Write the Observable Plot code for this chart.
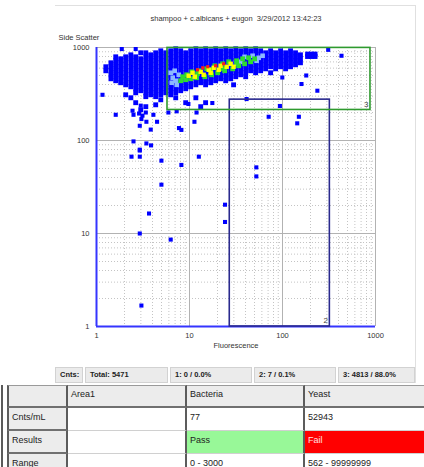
<!DOCTYPE html>
<html><head><meta charset="utf-8">
<script src="https://cdn.jsdelivr.net/npm/d3@7"></script>
<script src="https://cdn.jsdelivr.net/npm/@observablehq/plot@0.6"></script>
<style>
body{margin:0;background:#fff;font-family:"Liberation Sans",Arial,sans-serif;}
#wrap{position:relative;width:424px;height:467px;overflow:hidden;background:#fff;}
#chart{position:absolute;left:0;top:0;}
.fr{position:absolute;background:#e0e0e0;}
.cnt{position:absolute;top:367px;height:16px;background:#ebebeb;border:1px solid #d2d2d2;box-sizing:border-box;font-size:7.5px;font-weight:bold;line-height:14px;padding-left:4px;color:#222;white-space:nowrap;}
.cell{position:absolute;box-sizing:border-box;font-size:9px;padding-left:3px;color:#222;white-space:nowrap;overflow:hidden;}
</style></head>
<body>
<div id="wrap">
  <div class="fr" style="left:55px;top:5px;width:361px;height:1px;"></div>
  <div class="fr" style="left:415px;top:5px;width:1px;height:378px;"></div>
  <div id="chart"></div>
</div>
<script>
// ---------- data ----------
const chartTitle = "shampoo + c.albicans + eugon  3/29/2012 13:42:23";
const xLabel = "Fluorescence";
const yLabel = "Side Scatter";
const majorTicks = [1, 10, 100, 1000];
const minorTicks = [2,3,4,5,6,7,8,9,20,30,40,50,60,70,80,90,200,300,400,500,600,700,800,900];

// main cluster: [fluorescence, [side scatter values]]
const clusterColumns = [
  [1.26, [621, 562]],
  [1.43, [685, 621, 562, 509, 461]],
  [1.61, [794, 720, 652, 590, 535, 485, 439]],
  [1.82, [756, 685, 621, 562, 509, 461, 418]],
  [2.06, [794, 720, 652, 590, 535, 485, 439, 397, 310]],
  [2.34, [834, 756, 685, 621, 562, 509, 461, 418, 378, 288]],
  [2.64, [794, 720, 652, 590, 535, 485, 439, 397, 360, 326, 255]],
  [2.99, [877, 756, 685, 621, 562, 509, 461, 418, 378, 343, 214]],
  [3.39, [877, 794, 720, 652, 590, 535, 485, 439, 397, 360, 326, 296, 231]],
  [3.83, [834, 756, 685, 621, 562, 509, 461, 418, 378, 343, 310]],
  [4.33, [877, 794, 720, 652, 590, 535, 485, 439, 397, 360, 326, 296, 242]],
  [4.91, [921, 834, 756, 685, 621, 562, 509, 461, 418, 378, 343, 310, 274]],
  [5.55, [877, 794, 720, 652, 590, 535, 485, 439, 397, 360, 326]],
  [6.28, [921, 834, 756, 685, 621, 562, 509, 461, 418, 378, 343, 310]],
  [7.11, [969, 877, 794, 720, 652, 590, 535, 485, 439, 397, 360, 326, 288]],
  [8.04, [921, 834, 756, 685, 621, 562, 509, 461, 418, 378, 343]],
  [9.1,  [877, 794, 720, 652, 590, 535, 485, 439, 397, 360, 255]],
  [10.3, [921, 834, 756, 685, 621, 562, 509, 461, 418, 378]],
  [11.7, [969, 877, 794, 720, 652, 590, 535, 485, 439, 397, 288]],
  [13.2, [921, 834, 756, 685, 621, 562, 509, 461, 418, 231]],
  [14.9, [969, 877, 794, 720, 652, 590, 535, 485, 439, 397, 255]],
  [16.9, [921, 834, 756, 685, 621, 562, 509, 461, 418]],
  [19.1, [969, 877, 794, 720, 652, 590, 535, 485, 439]],
  [21.6, [921, 834, 756, 685, 621, 562, 509, 461]],
  [24.5, [969, 877, 794, 720, 652, 590, 535, 485, 439]],
  [27.7, [921, 834, 756, 685, 621, 562, 509, 461]],
  [29.8, [397]],
  [31.4, [969, 877, 794, 720, 652, 590, 535, 485]],
  [35.5, [921, 834, 756, 685, 621, 562, 509]],
  [40.2, [969, 877, 794, 720, 652, 590, 535, 485]],
  [45.4, [921, 834, 756, 685, 621, 562]],
  [51.4, [969, 877, 794, 720, 652, 590, 535]],
  [58.2, [921, 834, 756, 685, 621, 562]],
  [65.8, [877, 794, 720, 652, 590]],
  [74.5, [921, 834, 756, 685, 621, 535]],
  [84.3, [877, 794, 720, 652, 590]],
  [95.4, [921, 834, 756, 685, 621]],
  [108,  [877, 794, 720, 652, 590]],
  [122,  [921, 834, 756, 685, 621]],
  [138,  [877, 794, 720, 652]],
  [156,  [834, 756, 685]],
  [186,  [850, 800]],
  [205,  [850, 800]],
  [224,  [850, 800]]
];

// isolated events: [fluorescence, side scatter]
const outlierPoints = [
  [2.38,67],[2.92,67],[2.92,78],[4.99,60.7],[8.18,54.6],[12.6,67],[4.99,33.5],[52.3,51.4],[52.3,41.1],
  [24.1,20.4],[24.1,13.3],[3.67,16.4],[2.92,10],[6.28,8.6],[3.04,1.68],
  [1.16,310],[1.61,189],[2.5,189],[2.87,195],[3.12,185],[3.39,200],[3.04,170],[3.44,159],[4.09,189],
  [2.92,144],[4.48,159],[3.83,131],[5.93,200],[7.28,206],[11.9,200],[11.3,159],[7.71,136],[8.18,130],
  [2.5,97.8],[3.44,93],[3.86,88.6],[2.92,79.7],
  [1.87,962],[2.64,962],[2.44,209],[2.99,237],[9.73,247],[17.6,253],[41.1,279],[71,180],[93.8,235],
  [99.5,476],[150,180],[144,153],[180,500],[160,405],[237,343],[310,944],[431,815]
];

// density colouring of the core
const lightBluePoints = [[6.28,535],[6.6,473],[6.93,562],[7.1,439],[6.44,418],[7.66,509],[7.29,397],
  [39.1,794],[47.7,815],[55.4,775],[61.1,815],[52.7,720],[35.5,702]];
const greenPoints = [[8.04,439],[8.45,485],[9.1,450],[9.33,509],[10.3,461],[10.6,548],[11.9,473],[12.6,562],
  [14.6,485],[15.3,590],[17.3,509],[18.7,636],[20.1,535],[22.7,668],[23.9,562],[26.4,702],[29.1,590],
  [32.1,720],[33.8,636],[37.3,756],[39.1,668],[43.2,775],[45.4,702],[50.1,756],[32.1,668],[12.2,522],
  [16.9,576],[22.7,590]];
const yellowPoints = [[9.8,497],[10.8,535],[11.4,485],[13.2,548],[14.2,509],[16.1,576],[16.9,535],
  [18.2,605],[20.6,576],[21.6,636],[25.1,621],[27.7,668],[29.8,621]];
const redPoints = [[12.2,576],[13.9,605],[15.7,621],[19.1,637],[23.3,668]];

// gates
const gateNames = ["2", "3"];
const gateX1 = [27.1, 5.8];
const gateX2 = [323, 883];
const gateY1 = [1, 213];
const gateY2 = [275, 990];
const gateColors = ["#2a2a8e", "#2f9a2f"];

// counts bar and results table
const countLabels = ["Cnts:", "Total: 5471", "1: 0 / 0.0%", "2: 7 / 0.1%", "3: 4813 / 88.0%"];
const tableHeader = ["", "Area1", "Bacteria", "Yeast"];
const tableRows = [
  ["Cnts/mL", "", "77", "52943"],
  ["Results", "", "Pass", "Fail"],
  ["Range", "", "0 - 3000", "562 - 99999999"]
];

// ---------- chart ----------
const cluster = clusterColumns.flatMap(([x, ys]) => ys.map(y => [x, y]));
const gates = gateNames.map((n, i) => ({name: n, x1: gateX1[i], x2: gateX2[i], y1: gateY1[i], y2: gateY2[i], color: gateColors[i]}));
const sq = (data, fill, r = 2.3) => Plot.dot(data, {x: d => d[0], y: d => d[1], symbol: "square", r, fill, stroke: "none"});

const chart = Plot.plot({
  width: 424, height: 367,
  marginLeft: 96, marginRight: 49, marginTop: 47, marginBottom: 41,
  style: {fontFamily: "'Liberation Sans', Arial, sans-serif", fontSize: "7.5px", color: "#333", background: "transparent", overflow: "visible"},
  x: {type: "log", domain: [1, 1000]},
  y: {type: "log", domain: [1, 1000]},
  marks: [
    Plot.ruleX(minorTicks, {stroke: "#c4c4c4", strokeDasharray: "1,2"}),
    Plot.ruleY(minorTicks, {stroke: "#c4c4c4", strokeDasharray: "1,2"}),
    Plot.ruleX(majorTicks, {stroke: "#b2b2b2"}),
    Plot.ruleY(majorTicks, {stroke: "#b2b2b2"}),
    Plot.axisX({ticks: majorTicks, tickFormat: d => String(d), tickSize: 0, tickPadding: 6, label: null, fill: "#333"}),
    Plot.axisY({ticks: majorTicks, tickFormat: d => String(d), tickSize: 0, tickPadding: 7, label: null, fill: "#333"}),
    sq(outlierPoints, "#0000ff"),
    sq(cluster, "#0000ff", 2.75),
    sq(lightBluePoints, "#8cb8ff", 2.6),
    sq(greenPoints, "#2fdc2f", 2.7),
    sq(yellowPoints, "#ffff00", 2.5),
    sq(redPoints, "#ff1a1a", 1.8),
    Plot.ruleX([1], {stroke: "#3535ff", strokeWidth: 2}),
    Plot.ruleY([1], {stroke: "#3535ff", strokeWidth: 2}),
    Plot.rect(gates, {x1: "x1", x2: "x2", y1: "y1", y2: "y2", stroke: d => d.color, fill: "none", strokeWidth: 1.6}),
    Plot.text(gates, {x: "x2", y: "y1", text: "name", textAnchor: "end", dx: -2, dy: -6, fontSize: 8, fill: "#444"}),
    Plot.text([chartTitle], {text: d => d, frameAnchor: "top", dy: -32, fill: "#333"}),
    Plot.text([yLabel], {text: d => d, frameAnchor: "top-left", textAnchor: "start", dx: -38, dy: -13, fill: "#333"}),
    Plot.text([xLabel], {text: d => d, frameAnchor: "bottom", dy: 21, fill: "#333"})
  ]
});
document.getElementById("chart").appendChild(chart);

// ---------- counts bar ----------
const wrap = document.getElementById("wrap");
const cntEdges = [[55, 83], [85, 168], [170, 252], [254, 336], [338, 415]];
countLabels.forEach((t, i) => {
  const d = document.createElement("div");
  d.className = "cnt";
  d.style.left = cntEdges[i][0] + "px";
  d.style.width = (cntEdges[i][1] - cntEdges[i][0]) + "px";
  d.textContent = t;
  wrap.appendChild(d);
});

// ---------- table ----------
const colEdges = [7, 68, 187, 305, 426];
const rowEdges = [385, 408, 431, 454, 477];
const strip = document.createElement("div");
strip.style.cssText = "position:absolute;left:1px;top:385px;width:2px;height:90px;background:#5a5a5a;";
wrap.appendChild(strip);
[tableHeader, ...tableRows].forEach((row, r) => {
  row.forEach((t, c) => {
    const d = document.createElement("div");
    d.className = "cell";
    const left = colEdges[c], top = rowEdges[r];
    d.style.left = left + "px";
    d.style.top = top + "px";
    d.style.width = (colEdges[c + 1] - left) + "px";
    d.style.height = (rowEdges[r + 1] - top) + "px";
    const isHead = r === 0 || c === 0;
    let bg = isHead ? "#ececec" : "#ffffff";
    let color = "#222";
    if (t === "Pass") bg = "#98f898";
    if (t === "Fail") { bg = "#ff0000"; color = "#ffe0e0"; }
    d.style.background = bg;
    d.style.color = color;
    d.style.borderRight = "2px solid #5c5c5c";
    d.style.borderBottom = isHead ? "2px solid #707070" : "1px solid #d0d0d0";
    if (r === 0) d.style.borderTop = "1px solid #9a9a9a";
    if (c === 0) d.style.borderLeft = "2px solid #5c5c5c";
    if (r === 0) { d.style.lineHeight = "14px"; d.style.paddingTop = "1px"; }
    else { d.style.lineHeight = "19px"; }
    d.textContent = t;
    wrap.appendChild(d);
  });
});
</script>
</body></html>
